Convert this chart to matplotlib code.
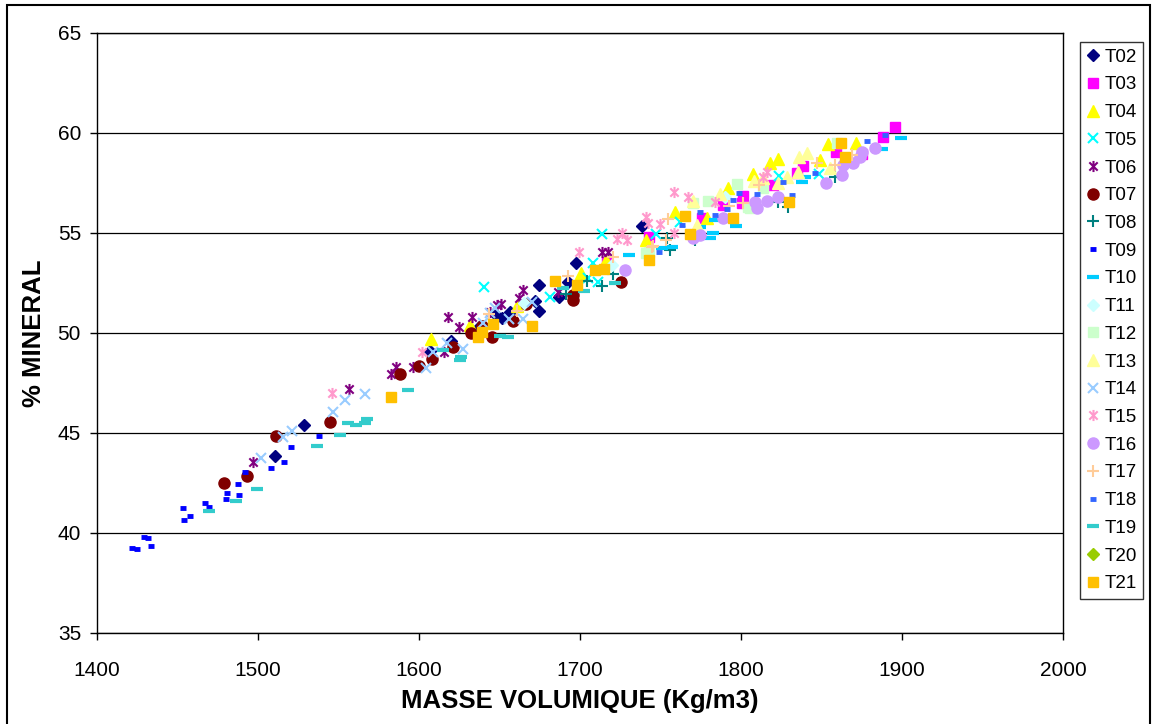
import matplotlib
matplotlib.use("Agg")
import matplotlib.pyplot as plt
from matplotlib.path import Path
from matplotlib.patches import Rectangle

plt.rcParams['font.family'] = ['Liberation Sans', 'DejaVu Sans']

# --- données (masse volumique, % minéral) ---
x02 = [1510.5, 1528.6, 1606.8, 1620.0, 1637.0, 1647.0, 1651.5, 1656.5, 1672.0, 1674.5, 1674.5, 1687.0, 1692.5, 1697.4, 1738.5]
y02 = [43.85, 45.4, 49.1, 49.6, 50.3, 50.95, 50.75, 51.05, 51.6, 51.1, 52.4, 51.8, 52.55, 53.5, 55.35]

x03 = [1716.8, 1742.8, 1775.8, 1788.8, 1800.6, 1801.2, 1819.9, 1834.8, 1838.5, 1859.0, 1875.1, 1888.2, 1895.6]
y03 = [53.55, 54.8, 55.75, 56.4, 56.5, 56.85, 57.4, 58.0, 58.35, 59.05, 58.95, 59.8, 60.3]

x04 = [1607.5, 1631.7, 1660.9, 1700.6, 1716.1, 1741.0, 1759.0, 1778.9, 1791.9, 1807.4, 1818.0, 1823.0, 1849.0, 1854.0, 1871.4]
y04 = [49.7, 50.4, 51.35, 53.0, 53.65, 54.65, 56.05, 55.75, 57.25, 57.95, 58.5, 58.7, 58.65, 59.45, 59.5]

x05 = [1640.4, 1681.4, 1705.0, 1708.1, 1711.2, 1713.6, 1747.2, 1762.1, 1823.6, 1848.4]
y05 = [52.3, 51.8, 52.75, 53.5, 52.55, 54.95, 54.95, 55.55, 57.85, 57.95]

x06 = [1496.9, 1556.5, 1582.6, 1585.7, 1596.3, 1615.5, 1618.0, 1624.8, 1632.9, 1644.1, 1648.5, 1650.9, 1662.1, 1664.6, 1686.3, 1713.6, 1717.4]
y06 = [43.55, 47.2, 47.95, 48.3, 48.3, 49.05, 50.8, 50.3, 50.8, 51.05, 51.4, 51.45, 51.75, 52.15, 52.05, 54.05, 54.05]

x07 = [1478.9, 1493.2, 1511.2, 1544.7, 1588.2, 1600.0, 1608.1, 1621.1, 1632.3, 1639.0, 1645.3, 1658.4, 1666.5, 1695.6, 1695.6, 1725.5]
y07 = [42.5, 42.85, 44.85, 45.55, 47.95, 48.35, 48.7, 49.3, 50.0, 50.35, 49.8, 50.6, 51.45, 51.9, 51.65, 52.55]

x08 = [1691.3, 1704.3, 1713.6, 1720.5, 1754.0, 1755.9, 1771.4, 1823.0, 1829.2, 1858.4]
y08 = [51.95, 52.6, 52.35, 52.95, 54.75, 54.15, 54.65, 56.55, 56.3, 57.8]

x09 = [1421.7, 1424.8, 1429.2, 1431.6, 1433.5, 1453.4, 1454.0, 1457.8, 1467.1, 1469.6, 1480.1, 1480.7, 1487.6, 1488.2, 1491.9, 1508.1, 1516.1, 1520.5, 1537.9]
y09 = [39.25, 39.2, 39.8, 39.75, 39.35, 41.25, 40.65, 40.85, 41.5, 41.3, 41.7, 42.0, 42.45, 41.9, 43.05, 43.25, 43.55, 44.3, 44.85]

x10 = [1730.4, 1751.0, 1757.1, 1774.5, 1780.7, 1782.6, 1783.8, 1797.0, 1837.9, 1839.8, 1887.5, 1899.3]
y10 = [53.9, 54.25, 54.3, 55.3, 54.75, 55.0, 55.65, 55.35, 57.55, 57.8, 59.2, 59.75]

x11 = [1665.0, 1720.0, 1790.0]
y11 = [51.5, 53.4, 56.8]

x12 = [1741.0, 1742.8, 1770.2, 1779.5, 1797.5, 1804.3, 1805.6, 1813.6, 1859.6]
y12 = [54.0, 54.05, 56.5, 56.6, 57.45, 56.3, 56.25, 57.25, 59.5]

x13 = [1770.2, 1772.7, 1786.9, 1808.0, 1813.6, 1823.0, 1828.6, 1835.4, 1836.0, 1841.3, 1855.3]
y13 = [56.6, 55.4, 56.95, 57.6, 57.75, 57.5, 57.8, 58.05, 58.8, 59.0, 58.25]

x14 = [1501.9, 1515.5, 1521.1, 1546.6, 1554.1, 1566.5, 1604.3, 1608.7, 1617.4, 1627.3, 1639.7, 1644.1, 1647.2, 1655.9, 1664.6, 1670.2]
y14 = [43.75, 44.8, 45.1, 46.05, 46.65, 46.95, 48.25, 49.05, 49.5, 49.2, 50.5, 51.0, 51.25, 50.7, 50.7, 51.55]

x15 = [1546.0, 1601.9, 1699.4, 1723.0, 1726.0, 1729.2, 1741.0, 1742.2, 1749.7, 1758.4, 1758.4, 1767.1, 1783.8, 1813.6, 1816.1]
y15 = [47.0, 49.05, 54.05, 54.7, 55.0, 54.65, 55.8, 55.5, 55.45, 55.0, 57.05, 56.8, 56.55, 57.8, 58.05]

x16 = [1727.9, 1770.2, 1774.5, 1788.8, 1808.6, 1809.9, 1816.1, 1823.0, 1852.8, 1862.7, 1863.3, 1869.6, 1873.9, 1875.1, 1883.2]
y16 = [53.15, 54.75, 54.9, 55.75, 56.55, 56.25, 56.6, 56.8, 57.5, 57.9, 58.4, 58.5, 58.8, 59.05, 59.25]

x17 = [1643.5, 1660.9, 1692.5, 1720.8, 1744.7, 1745.3, 1753.4, 1754.6, 1792.5, 1801.0, 1811.2, 1847.2, 1858.4, 1868.9]
y17 = [50.95, 51.1, 52.85, 53.8, 54.3, 54.35, 54.65, 55.7, 56.35, 56.5, 57.4, 58.5, 58.4, 58.9]

x18 = [1749.0, 1763.3, 1774.5, 1783.8, 1791.3, 1795.0, 1798.7, 1809.9, 1826.0, 1831.7, 1845.9, 1878.3, 1889.4]
y18 = [54.05, 55.4, 56.05, 55.9, 56.2, 56.65, 57.0, 56.95, 57.55, 56.9, 58.0, 59.6, 59.9]

x19 = [1469.6, 1486.3, 1499.4, 1536.6, 1550.9, 1555.9, 1560.9, 1566.5, 1567.7, 1593.2, 1614.9, 1625.5, 1626.1, 1650.3, 1655.3, 1689.4, 1702.4, 1721.7]
y19 = [41.1, 41.6, 42.2, 44.35, 44.9, 45.5, 45.4, 45.5, 45.7, 47.15, 49.15, 48.65, 48.8, 49.85, 49.8, 52.25, 52.1, 52.5]

# T20 : aucun point visible sur le graphique (seulement dans la légende)
x20 = []
y20 = []

x21 = [1582.6, 1636.6, 1639.0, 1646.0, 1670.2, 1684.4, 1698.1, 1709.3, 1714.9, 1742.8, 1765.2, 1768.3, 1795.0, 1829.8, 1862.1, 1864.6]
y21 = [46.8, 49.8, 50.05, 50.45, 50.35, 52.6, 52.4, 53.15, 53.2, 53.65, 55.85, 54.95, 55.75, 56.55, 59.5, 58.8]

labels = ["T02", "T03", "T04", "T05", "T06", "T07", "T08", "T09", "T10", "T11",
          "T12", "T13", "T14", "T15", "T16", "T17", "T18", "T19", "T20", "T21"]
xs = [x02, x03, x04, x05, x06, x07, x08, x09, x10, x11, x12, x13, x14, x15, x16, x17, x18, x19, x20, x21]
ys = [y02, y03, y04, y05, y06, y07, y08, y09, y10, y11, y12, y13, y14, y15, y16, y17, y18, y19, y20, y21]

# marqueur étoile façon Excel (X + barre verticale)
star = Path([(0, -1), (0, 1), (-0.75, -0.75), (0.75, 0.75), (-0.75, 0.75), (0.75, -0.75)],
            [Path.MOVETO, Path.LINETO, Path.MOVETO, Path.LINETO, Path.MOVETO, Path.LINETO])

# (couleur, marqueur, taille, épaisseur du trait)
styles = [
    ("#000080", "D", 6.5, 1), ("#FF00FF", "s", 7, 1), ("#FFFF00", "^", 8, 1),
    ("#00FFFF", "x", 7, 1.5), ("#800080", star, 8, 1.5), ("#800000", "o", 8, 1),
    ("#008080", "+", 8, 1.5), ("#0000FF", "_", 5, 3.5), ("#00CCFF", "_", 8, 3),
    ("#CCFFFF", "D", 6.5, 1), ("#CCFFCC", "s", 7, 1), ("#FFFF99", "^", 8, 1),
    ("#99CCFF", "x", 7, 1.5), ("#FF99CC", star, 8, 1.5), ("#CC99FF", "o", 8, 1),
    ("#FFCC99", "+", 8, 1.5), ("#3366FF", "_", 5, 3.5), ("#33CCCC", "_", 8, 3),
    ("#99CC00", "D", 6.5, 1), ("#FFC000", "s", 7, 1),
]

fig = plt.figure(figsize=(11.57, 7.24), dpi=100)
ax = fig.add_axes([97 / 1157, 1 - 633 / 724, 966 / 1157, 600 / 724])

for x, y, lab, (c, m, s, mew) in zip(xs, ys, labels, styles):
    fill = c if m not in ("x", "+", "_") and m is not star else "none"
    ax.plot(x, y, linestyle="none", marker=m, markersize=s, markeredgewidth=mew,
            color=c, markerfacecolor=fill, markeredgecolor=c, label=lab)

ax.set_xlim(1400, 2000)
ax.set_ylim(35, 65)
ax.set_xticks([1400, 1500, 1600, 1700, 1800, 1900, 2000])
ax.set_yticks([35, 40, 45, 50, 55, 60, 65])
ax.yaxis.grid(True, color="black", linewidth=0.9)
ax.set_axisbelow(True)
for sp in ax.spines.values():
    sp.set_color("black")
    sp.set_linewidth(1)
ax.tick_params(axis="both", direction="out", length=5, width=1, labelsize=15, colors="black")
ax.tick_params(axis="x", pad=15.5)
ax.tick_params(axis="y", pad=6.5)

ax.set_xlabel("MASSE VOLUMIQUE (Kg/m3)", fontsize=18.5, fontweight="bold")
ax.set_ylabel("% MINERAL", fontsize=18.5, fontweight="bold")
ax.xaxis.set_label_coords(0.5, -0.094)
ax.yaxis.set_label_coords(-0.053, 0.5)

leg = fig.legend(loc="upper left", bbox_to_anchor=(1080 / 1157, 1 - 42 / 724),
                 fontsize=13.5, frameon=True, fancybox=False, borderaxespad=0,
                 borderpad=0.35, handlelength=0.7, handletextpad=0.25, labelspacing=0.565,
                 numpoints=1)
leg.get_frame().set_edgecolor("black")
leg.get_frame().set_linewidth(1)

# cadre extérieur du graphique
fig.patches.append(Rectangle((7 / 1157, -0.01), (1150 - 7) / 1157, 1.01 - 5 / 724,
                             transform=fig.transFigure, fill=False, edgecolor="black",
                             linewidth=1.5))

fig.savefig("out.png", dpi=100)
